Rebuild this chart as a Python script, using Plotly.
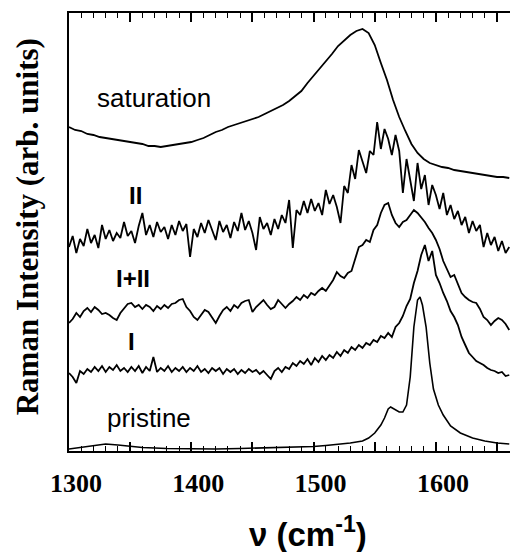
import plotly.graph_objects as go

# ---------------- data ----------------
wavenumber_noisy = [
    1300, 1303, 1306, 1309, 1312, 1315, 1318, 1321, 1324, 1327,
    1330, 1333, 1336, 1339, 1342, 1345, 1348, 1351, 1354, 1357,
    1360, 1363, 1366, 1369, 1372, 1375, 1378, 1381, 1384, 1387,
    1390, 1393, 1396, 1399, 1402, 1405, 1408, 1411, 1414, 1417,
    1420, 1423, 1426, 1429, 1432, 1435, 1438, 1441, 1444, 1447,
    1450, 1453, 1456, 1459, 1462, 1465, 1468, 1471, 1474, 1477,
    1480, 1483, 1486, 1489, 1492, 1495, 1498, 1501, 1504, 1507,
    1510, 1513, 1516, 1519, 1522, 1525, 1528, 1531, 1534, 1537,
    1540, 1543, 1546, 1549, 1552, 1555, 1558, 1561, 1564, 1567,
    1570, 1573, 1576, 1579, 1582, 1585, 1588, 1591, 1594, 1597,
    1600, 1603, 1606, 1609, 1612, 1615, 1618, 1621, 1624, 1627,
    1630, 1633, 1636, 1639, 1642, 1645, 1648, 1651, 1654, 1657,
    1660,
]

intensity_II = [
    204, 215, 198, 212, 205, 222, 208, 216, 203, 226,
    212, 221, 210, 218, 213, 229, 215, 220, 208, 225,
    238, 216, 226, 214, 229, 219, 224, 212, 226, 216,
    230, 220, 227, 194, 222, 214, 228, 218, 231, 220,
    211, 230, 219, 226, 213, 229, 220, 238, 221, 230,
    218, 201, 234, 222, 228, 216, 232, 222, 236, 228,
    251, 203, 241, 236, 250, 238, 252, 240, 248, 236,
    261, 247, 256, 244, 228, 265, 258, 286, 272, 301,
    290, 278, 300, 296, 329, 302, 322, 312, 296, 316,
    300, 258, 292, 270, 250, 288, 262, 276, 246, 266,
    256, 242, 258, 236, 246, 232, 240, 226, 234, 218,
    230, 220, 226, 204, 218, 206, 214, 200, 210, 198,
    204,
]

intensity_I_II = [
    128, 132, 138, 134, 140, 143, 139, 144, 141, 137,
    138, 136, 133, 131, 138, 143, 147, 148, 144, 146,
    142, 146, 144, 140, 145, 142, 146, 143, 147, 148,
    151, 152, 144, 140, 134, 131, 136, 141, 139, 134,
    128, 135, 141, 144, 140, 146, 143, 148, 150, 151,
    139, 144, 148, 151, 146, 142, 144, 151, 147, 143,
    147, 150, 154, 151, 156, 153, 158, 156, 160, 163,
    160, 166, 171, 179, 175, 173, 178, 180, 191, 204,
    206, 211, 209, 221, 226, 238, 246, 248, 236, 228,
    224, 229, 231, 236, 241, 238, 234, 229, 223, 218,
    211, 202, 190, 181, 174, 176, 167, 158, 154, 151,
    149, 148, 142, 134, 131, 126, 130, 133, 131, 127,
    121,
]

intensity_I = [
    78, 74, 68, 80, 77, 82, 79, 84, 80, 85,
    79, 84, 81, 86, 80, 83, 79, 84, 80, 85,
    78, 84, 80, 94, 79, 83, 80, 85, 79, 83,
    80, 84, 79, 83, 80, 85, 79, 82, 78, 83,
    80, 83, 77, 82, 79, 82, 77, 81, 78, 82,
    79, 81, 77, 80, 76, 72, 80, 83, 79, 84,
    82, 88, 85, 90, 87, 92, 86, 93, 89, 95,
    91, 96, 93, 99, 95, 101, 98, 104, 101, 106,
    103, 108, 106, 111, 109, 115, 113, 118, 114, 124,
    128, 135, 145, 152, 168, 180, 196, 206, 190, 200,
    176, 168, 158, 150, 140, 134, 126, 114, 106, 98,
    94, 90, 88, 86, 83, 81, 80, 78, 79, 75,
    76,
]

wavenumber_saturation = [
    1300, 1305, 1310, 1315, 1320, 1325, 1330, 1335, 1340, 1345,
    1350, 1355, 1360, 1365, 1370, 1375, 1380, 1385, 1390, 1395,
    1400, 1405, 1410, 1415, 1420, 1425, 1430, 1435, 1440, 1445,
    1450, 1455, 1460, 1465, 1470, 1475, 1480, 1485, 1490, 1495,
    1500, 1505, 1510, 1515, 1520, 1525, 1530, 1535, 1540, 1545,
    1550, 1555, 1560, 1565, 1570, 1575, 1580, 1585, 1590, 1595,
    1600, 1605, 1610, 1615, 1620, 1625, 1630, 1635, 1640, 1645,
    1650, 1655, 1660,
]
intensity_saturation = [
    324, 321, 320, 317, 316, 314, 313, 312, 311, 310,
    309, 308, 307, 305, 305, 304, 305, 306, 307, 308,
    309, 311, 313, 316, 319, 321, 324, 326, 328, 330,
    332, 334, 337, 340, 343, 346, 350, 355, 360, 368,
    375, 383, 390, 397, 405, 411, 416, 420, 422, 418,
    406, 388, 371, 351, 334, 320, 307, 298, 292, 288,
    286, 284, 283, 281, 280, 279, 278, 277, 276, 275,
    274, 274, 273,
]

wavenumber_pristine = [
    1300, 1310, 1320, 1330, 1340, 1350, 1360, 1380, 1400, 1420,
    1440, 1460, 1480, 1500, 1510, 1520, 1530, 1540, 1545, 1550,
    1555, 1558, 1561, 1563, 1566, 1570, 1573, 1576, 1579, 1582,
    1585, 1587, 1589, 1592, 1595, 1598, 1602, 1606, 1612, 1620,
    1630, 1640, 1650, 1660,
]
intensity_pristine = [
    2, 3.5, 5.5, 7, 6, 4.5, 3.5, 2.5, 2, 2,
    2.5, 3, 3.5, 4.5, 5.5, 6.5, 8, 10, 13, 18,
    26, 33, 42, 44, 42, 39, 39, 46, 74, 124,
    151, 154, 146, 124, 88, 62, 46, 36, 25, 18,
    13, 10, 8, 7,
]

tick_values = [1300, 1350, 1400, 1450, 1500, 1550, 1600, 1650]
tick_labels = ["1300", "", "1400", "", "1500", "", "1600", ""]

curve_labels = ["saturation", "II", "I+II", "I", "pristine"]
label_x = [1369.5, 1354, 1352.3, 1351.5, 1365.4]
label_y = [353, 256, 173, 110, 33]

SERIF = "Liberation Serif"
SANS = "Liberation Sans"

# ---------------- figure ----------------
fig = go.Figure()
for xs, ys, w in [
    (wavenumber_saturation, intensity_saturation, 1.8),
    (wavenumber_noisy, intensity_II, 1.8),
    (wavenumber_noisy, intensity_I_II, 1.8),
    (wavenumber_noisy, intensity_I, 1.8),
    (wavenumber_pristine, intensity_pristine, 1.6),
]:
    fig.add_trace(go.Scatter(x=xs, y=ys, mode="lines",
                             line=dict(color="black", width=w),
                             showlegend=False, hoverinfo="skip"))

for i, txt in enumerate(curve_labels):
    bold = txt in ("II", "I+II", "I")
    fig.add_annotation(x=label_x[i], y=label_y[i], xref="x", yref="y",
                       text=txt, showarrow=False, xanchor="center", yanchor="middle",
                       font=dict(family=SANS, size=24 if bold else 26, color="black",
                                 weight=700 if bold else 400))

fig.add_annotation(x=-0.095, y=0.511, xref="paper", yref="paper",
                   text="Raman Intensity (arb. units)", textangle=-90, showarrow=False,
                   xanchor="center", yanchor="middle",
                   font=dict(family=SERIF, size=31, color="black", weight=700))
fig.add_annotation(x=0.542, y=-0.186, xref="paper", yref="paper",
                   text="\u03bd (cm<sup>-1</sup>)", showarrow=False,
                   xanchor="center", yanchor="middle",
                   font=dict(family=SANS, size=33, color="black", weight=700))

fig.update_layout(
    template="none",
    width=510, height=552,
    margin=dict(l=69, r=0, t=13, b=101),
    xaxis=dict(range=[1300, 1660.6], showgrid=False, zeroline=False,
               showline=True, linecolor="black", linewidth=1.8, mirror="ticks",
               ticks="inside", ticklen=9, tickwidth=2, tickcolor="black",
               tickmode="array", tickvals=tick_values, ticktext=tick_labels,
               ticklabelshift=7, ticklabelstandoff=8,
               tickfont=dict(family=SERIF, size=26, color="black", weight=700),
               minor=dict(dtick=10, tick0=1300, ticks="inside", ticklen=5,
                          tickwidth=1.2, tickcolor="black", showgrid=False)),
    yaxis=dict(range=[0, 438], showgrid=False, zeroline=False, showticklabels=False,
               showline=True, linecolor="black", linewidth=2, ticks=""),
)

fig.write_html("out.html")
